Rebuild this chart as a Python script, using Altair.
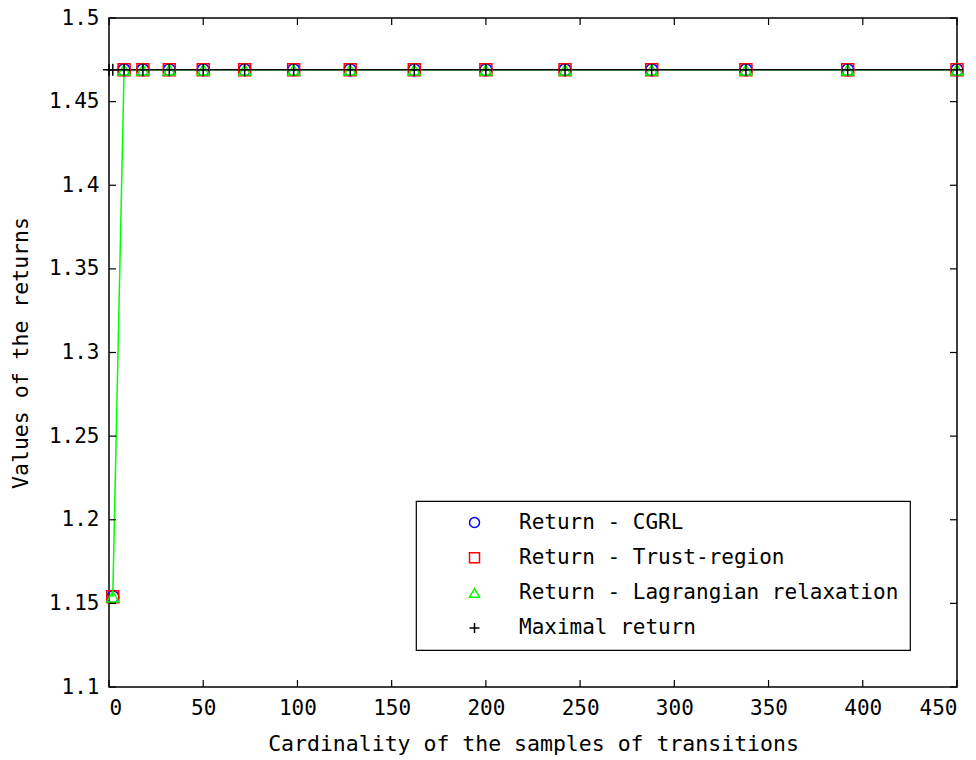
import altair as alt
import pandas as pd

samples = [2, 8, 18, 32, 50, 72, 98, 128, 162, 200, 242, 288, 338, 392, 450]
ret_cgrl = [1.154, 1.469, 1.469, 1.469, 1.469, 1.469, 1.469, 1.469, 1.469, 1.469, 1.469, 1.469, 1.469, 1.469, 1.469]
ret_trust = [1.154, 1.469, 1.469, 1.469, 1.469, 1.469, 1.469, 1.469, 1.469, 1.469, 1.469, 1.469, 1.469, 1.469, 1.469]
ret_lagr = [1.154, 1.469, 1.469, 1.469, 1.469, 1.469, 1.469, 1.469, 1.469, 1.469, 1.469, 1.469, 1.469, 1.469, 1.469]
max_x = [0, 2, 8, 18, 32, 50, 72, 98, 128, 162, 200, 242, 288, 338, 392, 450]
max_ret = 1.469

series_names = ["Return - CGRL", "Return - Trust-region",
                "Return - Lagrangian relaxation", "Maximal return"]
series_colors = ["#0000ff", "#ff0000", "#00ff00", "#000000"]
series_shapes = ["circle", "square", "triangle-up", "M-1,0L1,0M0,-1L0,1"]

x_ticks = [0, 50, 100, 150, 200, 250, 300, 350, 400, 450]
y_ticks = [1.1, 1.15, 1.2, 1.25, 1.3, 1.35, 1.4, 1.45, 1.5]

FONT = "DejaVu Sans Mono"
FS = 21
TFS = 21.5

rows = []
for k, (name, vals) in enumerate(zip(series_names[:3], [ret_cgrl, ret_trust, ret_lagr])):
    for x, v in zip(samples, vals):
        rows.append({"x": x, "y": v, "series": name, "ord": k})
for x in max_x:
    rows.append({"x": x, "y": max_ret, "series": series_names[3], "ord": 3})
df = pd.DataFrame(rows)

xs = alt.Scale(domain=[0, 450], nice=False)
ys = alt.Scale(domain=[1.1, 1.5], nice=False, zero=False)

xax = alt.Axis(values=x_ticks, format="d", ticks=False, domain=False, grid=False,
               labelFont=FONT, labelFontSize=FS, labelColor="#000", labelPadding=10,
               title="Cardinality of the samples of transitions", titleFont=FONT,
               titleFontSize=TFS, titleFontWeight="normal", titleColor="#000", titlePadding=15)
yax = alt.Axis(values=y_ticks, format=".2~f", ticks=False, domain=False, grid=False,
               labelFont=FONT, labelFontSize=FS, labelColor="#000", labelPadding=10,
               title="Values of the returns", titleFont=FONT,
               titleFontSize=TFS, titleFontWeight="normal", titleColor="#000", titlePadding=16)

base = alt.Chart(df)

green_line = base.transform_filter(alt.datum.series == series_names[2]).mark_line(
    color="#00ff00", strokeWidth=1.5).encode(
    x=alt.X("x:Q", scale=xs, axis=xax), y=alt.Y("y:Q", scale=ys, axis=yax))

black_line = base.transform_filter(alt.datum.series == series_names[3]).mark_line(
    color="#000000", strokeWidth=1.5).encode(
    x=alt.X("x:Q", scale=xs), y=alt.Y("y:Q", scale=ys))

points = base.mark_point(filled=False, strokeWidth=1.5, size=144, opacity=1).encode(
    x=alt.X("x:Q", scale=xs),
    y=alt.Y("y:Q", scale=ys),
    color=alt.Color("series:N", scale=alt.Scale(domain=series_names, range=series_colors),
                    legend=alt.Legend(title=None)),
    shape=alt.Shape("series:N", scale=alt.Scale(domain=series_names, range=series_shapes),
                    legend=alt.Legend(title=None)),
    order=alt.Order("ord:Q"),
)

xt = pd.DataFrame({"v": x_ticks})
yt = pd.DataFrame({"v": y_ticks})
TL = 7
W, H = 848, 669
tick_bottom = alt.Chart(xt).mark_rule(color="#000", strokeWidth=1.2).encode(
    x=alt.X("v:Q", scale=xs), y=alt.value(H), y2=alt.value(H - TL))
tick_top = alt.Chart(xt).mark_rule(color="#000", strokeWidth=1.2).encode(
    x=alt.X("v:Q", scale=xs), y=alt.value(0), y2=alt.value(TL))
tick_left = alt.Chart(yt).mark_rule(color="#000", strokeWidth=1.2).encode(
    y=alt.Y("v:Q", scale=ys), x=alt.value(0), x2=alt.value(TL))
tick_right = alt.Chart(yt).mark_rule(color="#000", strokeWidth=1.2).encode(
    y=alt.Y("v:Q", scale=ys), x=alt.value(W), x2=alt.value(W - TL))

chart = alt.layer(
    green_line, black_line, points, tick_bottom, tick_top, tick_left, tick_right
).properties(
    width=W, height=H,
    autosize=alt.AutoSizeParams(type="none"),
    padding={"left": 109, "top": 18, "right": 19, "bottom": 73},
    background="white",
).configure_view(
    stroke="#000", strokeWidth=1.5, fill="white"
).configure_legend(
    orient="none", legendX=307, legendY=483,
    fillColor="white", strokeColor="#000", strokeWidth=1.2,
    padding=11, rowPadding=13.2, cornerRadius=0,
    labelFont=FONT, labelFontSize=FS, labelColor="#000", labelOffset=34,
    symbolSize=100, symbolStrokeWidth=1.5, symbolOffset=37, symbolType="circle",
    labelLimit=600,
)

chart.save("out.html", embed_options={"renderer": "svg", "actions": False})
